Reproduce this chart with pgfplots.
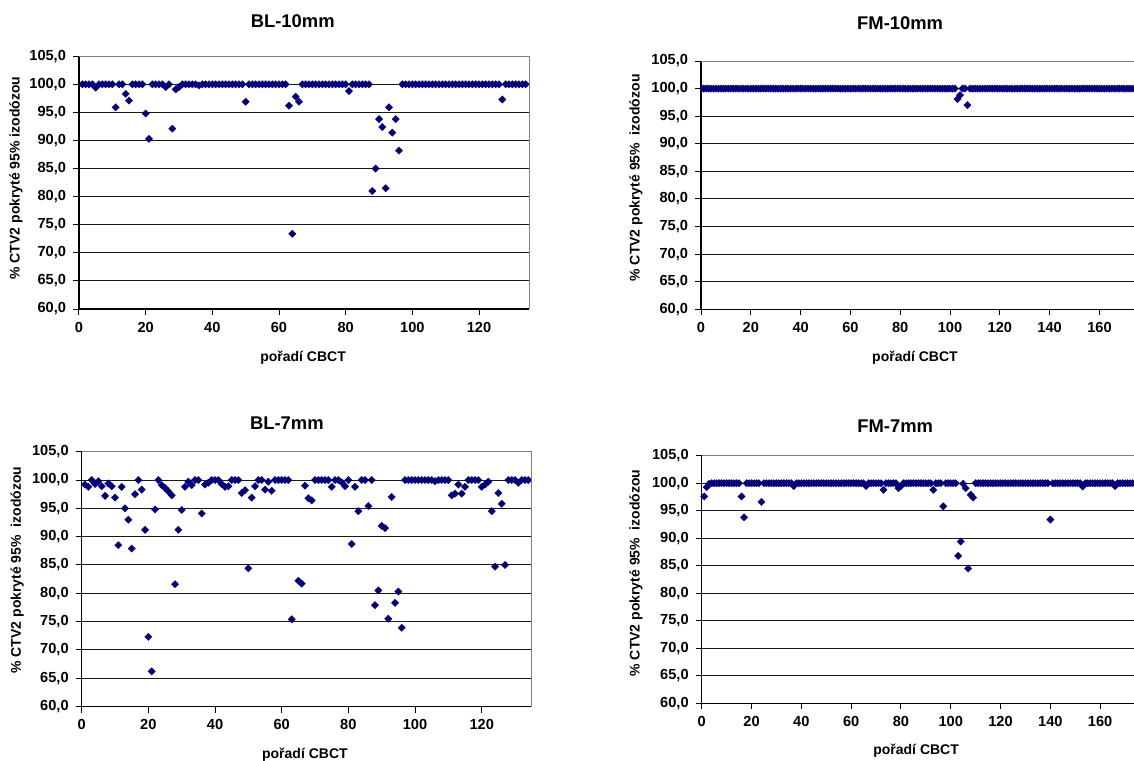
\documentclass[border=0pt]{standalone}
\usepackage{pgfplots}
\pgfplotsset{compat=1.18}
\usepackage{fontspec}
\setmainfont{Liberation Sans}
\definecolor{excelnavy}{HTML}{000080}

\pgfplotsset{
  cbct/.style={
    scale only axis,
    ymin=60, ymax=105, xmin=0,
    ytick={60,65,...,105},
    xtick distance=20,
    axis lines*=left,
    axis line style={-, black, line width=0.55pt},
    ymajorgrids,
    grid style={black!90, line width=0.5pt},
    tick align=outside,
    major tick length=3pt,
    tick style={black, line width=0.5pt},
    /pgf/number format/assume math mode=true,
    yticklabel style={/pgf/number format/.cd, fixed, fixed zerofill, precision=1, use comma},
    tick label style={font=\bfseries\fontsize{7.3}{8}\selectfont},
    label style={font=\bfseries\fontsize{7}{8}\selectfont},
    title style={font=\bfseries\fontsize{9.2}{11}\selectfont, anchor=center},
    ylabel style={inner sep=0pt},
    xlabel={pořadí CBCT},
    after end axis/.code={
      \draw[gray, line width=0.5pt] (rel axis cs:0,1) -- (rel axis cs:1,1) -- (rel axis cs:1,0);
    },
  },
  dots/.style={only marks, mark=square*, mark size=1.32pt,
    mark options={rotate=45, fill=excelnavy, draw=excelnavy, line width=0.1pt}},
}

\begin{document}
\begin{tikzpicture}
\path[use as bounding box] (0,0) rectangle (567pt,-380pt);
\clip (0,0) rectangle (567pt,-380pt);

% BL-10mm
\begin{axis}[cbct,
  at={(39.5pt,-154.5pt)}, anchor=south west,
  width=225pt, height=126.4pt, xmax=135,
  title={BL-10mm},
  title style={at={([yshift=11.75pt]axis description cs:0.475,1)}},
  xlabel style={at={([yshift=-24.5pt]axis description cs:0.498,0)}, anchor=center},
  ylabel={\% CTV2 pokryté 95\% izodózou},
  ylabel style={at={([xshift=-31.5pt]axis description cs:0,0.115)}, anchor=west},
]
\addplot[dots] coordinates {
(1,100)(2,100)(3,100)(4,100)(5,99.4)(6,100)(7,100)(8,100)(9,100)(10,100)
(11,95.9)(12,100)(13,100)(14,98.3)(15,97.1)(16,100)(17,100)(18,100)(19,100)(20,94.8)
(21,90.3)(22,100)(23,100)(24,100)(25,100)(26,99.5)(27,100)(28,92.1)(29,99.1)(30,99.5)
(31,100)(32,100)(33,100)(34,100)(35,100)(36,99.8)(37,100)(38,100)(39,100)(40,100)
(41,100)(42,100)(43,100)(44,100)(45,100)(46,100)(47,100)(48,100)(49,100)(50,96.9)
(51,100)(52,100)(53,100)(54,100)(55,100)(56,100)(57,100)(58,100)(59,100)(60,100)
(61,100)(62,100)(63,96.2)(64,73.4)(65,97.8)(66,96.9)(67,100)(68,100)(69,100)(70,100)
(71,100)(72,100)(73,100)(74,100)(75,100)(76,100)(77,100)(78,100)(79,100)(80,100)
(81,98.8)(82,100)(83,100)(84,100)(85,100)(86,100)(87,100)(88,81.0)(89,85.0)(90,93.8)
(91,92.4)(92,81.5)(93,95.9)(94,91.4)(95,93.8)(96,88.2)(97,100)(98,100)(99,100)(100,100)
(101,100)(102,100)(103,100)(104,100)(105,100)(106,100)(107,100)(108,100)(109,100)(110,100)
(111,100)(112,100)(113,100)(114,100)(115,100)(116,100)(117,100)(118,100)(119,100)(120,100)
(121,100)(122,100)(123,100)(124,100)(125,100)(126,100)(127,97.3)(128,100)(129,100)(130,100)
(131,100)(132,100)(133,100)(134,100)
};
\end{axis}

% FM-10mm
\begin{axis}[cbct,
  at={(350.5pt,-154.65pt)}, anchor=south west,
  width=217.9pt, height=124.15pt, xmax=175,
  title={FM-10mm},
  title style={at={([yshift=13.15pt]axis description cs:0.457,1)}},
  xlabel style={at={([yshift=-24.3pt]axis description cs:0.491,0)}, anchor=center},
  ylabel={\% CTV2 pokryté 95\% \ izodózou},
  ylabel style={at={([xshift=-32.5pt]axis description cs:0,0.111)}, anchor=west},
]
\addplot[dots] coordinates {
(1,100)(2,100)(3,100)(4,100)(5,100)(6,100)(7,100)(8,100)(9,100)(10,100)
(11,100)(12,100)(13,100)(14,100)(15,100)(16,100)(17,100)(18,100)(19,100)(20,100)
(21,100)(22,100)(23,100)(24,100)(25,100)(26,100)(27,100)(28,100)(29,100)(30,100)
(31,100)(32,100)(33,100)(34,100)(35,100)(36,100)(37,100)(38,100)(39,100)(40,100)
(41,100)(42,100)(43,100)(44,100)(45,100)(46,100)(47,100)(48,100)(49,100)(50,100)
(51,100)(52,100)(53,100)(54,100)(55,100)(56,100)(57,100)(58,100)(59,100)(60,100)
(61,100)(62,100)(63,100)(64,100)(65,100)(66,100)(67,100)(68,100)(69,100)(70,100)
(71,100)(72,100)(73,100)(74,100)(75,100)(76,100)(77,100)(78,100)(79,100)(80,100)
(81,100)(82,100)(83,100)(84,100)(85,100)(86,100)(87,100)(88,100)(89,100)(90,100)
(91,100)(92,100)(93,100)(94,100)(95,100)(96,100)(97,100)(98,100)(99,100)(100,100)
(101,100)(102,100)(103,98.1)(104,98.8)(105,100)(106,100)(107,97.0)(108,100)(109,100)(110,100)
(111,100)(112,100)(113,100)(114,100)(115,100)(116,100)(117,100)(118,100)(119,100)(120,100)
(121,100)(122,100)(123,100)(124,100)(125,100)(126,100)(127,100)(128,100)(129,100)(130,100)
(131,100)(132,100)(133,100)(134,100)(135,100)(136,100)(137,100)(138,100)(139,100)(140,100)
(141,100)(142,100)(143,100)(144,100)(145,100)(146,100)(147,100)(148,100)(149,100)(150,100)
(151,100)(152,100)(153,100)(154,100)(155,100)(156,100)(157,100)(158,100)(159,100)(160,100)
(161,100)(162,100)(163,100)(164,100)(165,100)(166,100)(167,100)(168,100)(169,100)(170,100)
(171,100)(172,100)(173,100)(174,100)(175,100)(176,100)(177,100)(178,100)(179,100)(180,100)
};
\end{axis}

% BL-7mm
\begin{axis}[cbct,
  at={(40.85pt,-353.25pt)}, anchor=south west,
  width=225pt, height=127.4pt, xmax=135,
  title={BL-7mm},
  title style={at={([yshift=8.5pt]axis description cs:0.456,1)}},
  xlabel style={at={([yshift=-24pt]axis description cs:0.496,0)}, anchor=center},
  ylabel={\% CTV2 pokryté 95\% \ izodózou},
  ylabel style={at={([xshift=-32.3pt]axis description cs:0,0.128)}, anchor=west},
]
\addplot[dots] coordinates {
(1,99.2)(2,98.8)(3,100)(4,99.3)(5,99.8)(6,98.9)(7,97.2)(8,99.4)(9,98.9)(10,96.9)
(11,88.5)(12,98.8)(13,95.0)(14,93.0)(15,87.9)(16,97.5)(17,100)(18,98.3)(19,91.2)(20,72.3)
(21,66.2)(22,94.8)(23,100)(24,99.1)(25,98.6)(26,98.0)(27,97.3)(28,81.6)(29,91.2)(30,94.7)
(31,98.8)(32,99.7)(33,99.1)(34,100)(35,100)(36,94.1)(37,99.2)(38,99.5)(39,100)(40,100)
(41,100)(42,99.3)(43,98.8)(44,98.9)(45,100)(46,100)(47,100)(48,97.7)(49,98.2)(50,84.4)
(51,96.9)(52,98.9)(53,100)(54,100)(55,98.3)(56,99.7)(57,98.1)(58,100)(59,100)(60,100)
(61,100)(62,100)(63,75.4)(65,82.2)(66,81.7)(67,99.0)(68,96.8)(69,96.4)(70,100)
(71,100)(72,100)(73,100)(74,100)(75,98.8)(76,100)(77,100)(78,99.6)(79,98.9)(80,100)
(81,88.7)(82,98.8)(83,94.5)(84,100)(85,100)(86,95.4)(87,100)(88,77.9)(89,80.5)(90,91.9)
(91,91.5)(92,75.5)(93,97.0)(94,78.3)(95,80.3)(96,73.9)(97,100)(98,100)(99,100)(100,100)
(101,100)(102,100)(103,100)(104,100)(105,100)(106,99.8)(107,100)(108,100)(109,100)(110,100)
(111,97.3)(112,97.6)(113,99.2)(114,97.6)(115,98.8)(116,100)(117,100)(118,100)(119,100)(120,98.8)
(121,99.2)(122,99.7)(123,94.5)(124,84.7)(125,97.7)(126,95.8)(127,85.0)(128,100)(129,100)(130,100)
(131,99.5)(132,100)(133,100)(134,100)
};
\end{axis}

% FM-7mm
\begin{axis}[cbct,
  at={(350.85pt,-351.65pt)}, anchor=south west,
  width=217.9pt, height=123.8pt, xmax=175,
  title={FM-7mm},
  title style={at={([yshift=8.85pt]axis description cs:0.444,1)}},
  xlabel style={at={([yshift=-23.6pt]axis description cs:0.492,0)}, anchor=center},
  ylabel={\% CTV2 pokryté 95\% \ izodózou},
  ylabel style={at={([xshift=-32.85pt]axis description cs:0,0.107)}, anchor=west},
]
\addplot[dots] coordinates {
(1,97.6)(2,99.3)(3,99.9)(4,100)(5,100)(6,100)(7,100)(8,100)(9,100)(10,100)
(11,100)(12,100)(13,100)(14,100)(15,100)(16,97.6)(17,93.8)(18,100)(19,100)(20,100)
(21,100)(22,100)(23,100)(24,96.6)(25,100)(26,100)(27,100)(28,100)(29,100)(30,100)
(31,100)(32,100)(33,100)(34,100)(35,100)(36,100)(37,99.5)(38,100)(39,100)(40,100)
(41,100)(42,100)(43,100)(44,100)(45,100)(46,100)(47,100)(48,100)(49,100)(50,100)
(51,100)(52,100)(53,100)(54,100)(55,100)(56,100)(57,100)(58,100)(59,100)(60,100)
(61,100)(62,100)(63,100)(64,100)(65,100)(66,99.5)(67,100)(68,100)(69,100)(70,100)
(71,100)(72,100)(73,98.8)(74,100)(75,100)(76,100)(77,100)(78,100)(79,99.1)(80,99.5)
(81,100)(82,100)(83,100)(84,100)(85,100)(86,100)(87,100)(88,100)(89,100)(90,100)
(91,100)(92,100)(93,98.8)(94,100)(95,100)(96,100)(97,95.8)(98,100)(99,100)(100,100)
(101,100)(102,100)(103,86.8)(104,89.4)(105,99.9)(106,99.1)(107,84.5)(108,97.9)(109,97.4)(110,100)
(111,100)(112,100)(113,100)(114,100)(115,100)(116,100)(117,100)(118,100)(119,100)(120,100)
(121,100)(122,100)(123,100)(124,100)(125,100)(126,100)(127,100)(128,100)(129,100)(130,100)
(131,100)(132,100)(133,100)(134,100)(135,100)(136,100)(137,100)(138,100)(139,100)(140,93.4)
(141,100)(142,100)(143,100)(144,100)(145,100)(146,100)(147,100)(148,100)(149,100)(150,100)
(151,100)(152,100)(153,99.4)(154,100)(155,100)(156,100)(157,100)(158,100)(159,100)(160,100)
(161,100)(162,100)(163,100)(164,100)(165,100)(166,99.5)(167,100)(168,100)(169,100)(170,100)
(171,100)(172,100)(173,100)(174,100)(175,100)(176,100)(177,100)(178,100)(179,100)(180,100)
};
\end{axis}
\end{tikzpicture}
\end{document}
